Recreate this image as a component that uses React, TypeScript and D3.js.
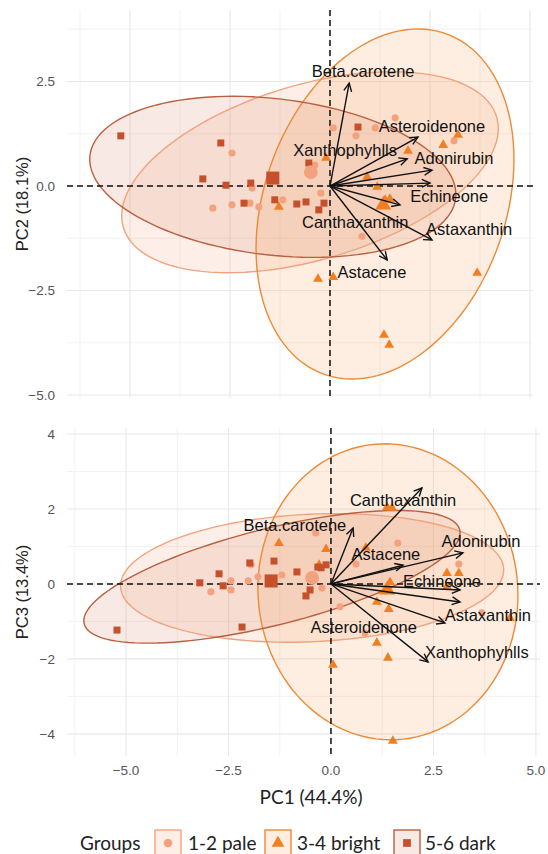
import React from "react";
import * as d3 from "d3";

type P = [number, number];

const groupNames = ["1-2 pale", "3-4 bright", "5-6 dark"];
const pointColors = ["#F4A27E", "#F07F22", "#C4512C"];
const ellipseColors = ["#EFA47E", "#EC8A36", "#B8603F"];
const fillColors = ["#F4A582", "#F7A25A", "#D9866A"];

const variables = ["Beta.carotene", "Asteroidenone", "Xanthophyhlls", "Adonirubin", "Echineone", "Canthaxanthin", "Astaxanthin", "Astacene"];

// ---------- PC1 vs PC2 ----------
const pc12Pale: P[] = [
  [-2.45, 0.79], [-1.95, -0.05], [-2.93, -0.53], [-2.45, -0.45], [-2.0, -0.41], [-1.78, -0.5],
  [-1.18, -0.33], [-0.23, -0.17], [-0.38, 0.5], [0.08, 1.39], [0.65, 1.2], [0.8, -1.2],
  [1.63, 1.63], [1.13, 1.39], [3.1, 1.08],
];
const pc12Bright: P[] = [
  [-1.28, -0.5], [-0.1, 0.67], [2.83, 0.98], [3.2, 1.22], [1.95, 0.84], [0.93, 0.22],
  [1.18, -0.02], [1.38, -0.33], [1.5, -0.31], [-0.3, -2.22], [0.08, -2.18], [3.68, -2.08],
  [1.35, -3.56], [1.48, -3.8],
];
const pc12Dark: P[] = [
  [-5.23, 1.2], [-2.73, 1.03], [-3.18, 0.17], [-2.6, 0.02], [-1.98, 0.07], [-2.15, -0.41],
  [-1.38, -0.33], [-0.83, -0.43], [-0.6, -0.38], [-0.15, -0.41], [-0.28, -0.57], [-0.53, 0.55],
  [0.7, 1.41],
];
const pc12Means: P[] = [[-0.48, 0.33], [1.33, -0.45], [-1.43, 0.19]];
const pc12Loadings: P[] = [
  [0.48, 2.46], [2.2, 1.17], [1.93, 0.65], [2.55, 0.38], [2.5, 0.07], [1.75, -0.45], [2.55, -1.29], [1.43, -1.77],
];
const pc12Labels: P[] = [
  [0.83, 2.75], [2.55, 1.44], [0.38, 0.86], [3.1, 0.67], [2.98, -0.24], [0.63, -0.86], [3.48, -1.03], [1.05, -2.06],
];
// [cx, cy, semi-major, semi-minor, angle deg]
const pc12Ellipses: number[][] = [
  [-0.5, 0.33, 4.85, 2.1, 15.5],
  [1.375, -0.43, 4.35, 3.0, 68],
  [-1.43, 0.22, 4.6, 1.87, -6.3],
];

// ---------- PC1 vs PC3 ----------
const pc13Pale: P[] = [
  [-1.95, 0.51], [-1.2, 0.24], [-1.78, 0.19], [-2.44, 0.08], [-2.02, 0.08], [-2.93, -0.21],
  [-2.44, -0.16], [-0.37, 1.36], [-0.22, -0.11], [0.22, -0.61], [0.83, -1.31], [1.63, 1.09],
  [0.61, 0.53], [3.12, 0.53], [3.68, -0.77],
];
const pc13Bright: P[] = [
  [-1.27, 1.09], [-0.12, 0.93], [-0.29, 0.51], [1.37, 2.05], [1.49, 2.03], [0.85, 0.96],
  [2.83, 0.29], [3.12, 0.29], [2.83, -0.08], [1.44, 0.05], [1.12, -0.48], [1.41, -0.67],
  [1.12, -1.57], [1.39, -1.97], [0.05, -2.16], [1.51, -4.19], [4.37, -0.91],
];
const pc13Dark: P[] = [
  [-1.98, 0.56], [-1.39, 0.61], [-0.83, 0.32], [-2.73, 0.27], [-3.2, 0.03], [-2.63, -0.05],
  [-0.24, 0.43], [-0.12, 0.51], [-0.32, 0.45], [-0.51, -0.16], [-0.61, -0.32], [-2.17, -1.15],
  [-5.22, -1.23],
];
const pc13Means: P[] = [[-0.46, 0.16], [1.37, -0.16], [-1.46, 0.08]];
const pc13Loadings: P[] = [
  [0.54, 1.49], [3.15, -0.48], [2.37, -2.08], [3.22, 0.83], [3.15, -0.16], [2.22, 2.56], [2.78, -1.04], [1.76, 0.5],
];
const pc13Labels: P[] = [
  [-0.88, 1.57], [0.8, -1.15], [3.56, -1.81], [3.66, 1.15], [2.71, 0.08], [1.76, 2.24], [3.83, -0.83], [1.34, 0.8],
];
const pc13Ellipses: number[][] = [
  [-0.46, 0.16, 4.68, 1.7, 3],
  [1.39, -0.21, 3.95, 3.17, 93],
  [-1.44, 0.19, 4.75, 1.28, 15.5],
];

const xMajor = [-5, -2.5, 0, 2.5, 5];
const xMinor = [-6.25, -3.75, -1.25, 1.25, 3.75];
const y2Major = [-5, -2.5, 0, 2.5];
const y2Minor = [-3.75, -1.25, 1.25, 3.75];
const y3Major = [-4, -2, 0, 2, 4];
const y3Minor = [-3, -1, 1, 3];

const FONT = "'Liberation Sans', Arial, sans-serif";
const FONT2 = "Lato, 'Open Sans', sans-serif";

const shapeTypes = [d3.symbolCircle, d3.symbolTriangle, d3.symbolSquare];
const shapeSizes = [40, 42, 49];
const meanSizes = [150, 110, 170];

function Panel(props: {
  x: d3.ScaleLinear<number, number>;
  y: d3.ScaleLinear<number, number>;
  yMajor: number[];
  yMinor: number[];
  yFmt: (v: number) => string;
  groups: P[][];
  means: P[];
  loadings: P[];
  labels: P[];
  ellipses: number[][];
  yTitle: string;
  showX: boolean;
  id: string;
}) {
  const { x, y } = props;
  const [x0, x1] = x.range();
  const [y0, y1] = y.range();
  const top = Math.min(y0, y1), bottom = Math.max(y0, y1);
  const line = d3.line<P>().x((d) => x(d[0])).y((d) => y(d[1])).curve(d3.curveLinearClosed);
  const ellPath = (e: number[]) => {
    const [cx, cy, a, b, ang] = e;
    const r = (ang * Math.PI) / 180;
    const pts: P[] = d3.range(0, 120).map((i) => {
      const t = (i / 120) * 2 * Math.PI;
      const u = a * Math.cos(t), v = b * Math.sin(t);
      return [cx + u * Math.cos(r) - v * Math.sin(r), cy + u * Math.sin(r) + v * Math.cos(r)];
    });
    return line(pts) as string;
  };
  const ox = x(0), oy = y(0);
  return (
    <g>
      <defs>
        <clipPath id={props.id}>
          <rect x={x0} y={top} width={x1 - x0} height={bottom - top} />
        </clipPath>
      </defs>
      {props.yMinor.map((v) => (
        <line key={"ym" + v} x1={x0} x2={x1} y1={y(v)} y2={y(v)} stroke="#EFEFEF" strokeWidth={0.8} />
      ))}
      {xMinor.map((v) => (
        <line key={"xm" + v} x1={x(v)} x2={x(v)} y1={top} y2={bottom} stroke="#EFEFEF" strokeWidth={0.8} />
      ))}
      {props.yMajor.map((v) => (
        <line key={"yM" + v} x1={x0} x2={x1} y1={y(v)} y2={y(v)} stroke="#E8E8E8" strokeWidth={1.1} />
      ))}
      {xMajor.map((v) => (
        <line key={"xM" + v} x1={x(v)} x2={x(v)} y1={top} y2={bottom} stroke="#E8E8E8" strokeWidth={1.1} />
      ))}
      <g clipPath={`url(#${props.id})`}>
        {props.ellipses.map((e, i) => (
          <path key={"ef" + i} d={ellPath(e)} fill={fillColors[i]} fillOpacity={0.18} stroke="none" />
        ))}
        {props.ellipses.map((e, i) => (
          <path key={"es" + i} d={ellPath(e)} fill="none" stroke={ellipseColors[i]} strokeWidth={1.4} />
        ))}
      </g>
      <line x1={x0} x2={x1} y1={oy} y2={oy} stroke="#111" strokeWidth={1.5} strokeDasharray="6,4" />
      <line x1={ox} x2={ox} y1={top} y2={bottom} stroke="#111" strokeWidth={1.5} strokeDasharray="6,4" />
      {props.groups.map((pts, gi) =>
        pts.map((p, j) => (
          <path
            key={`p${gi}-${j}`}
            d={d3.symbol().type(shapeTypes[gi]).size(shapeSizes[gi])() as string}
            transform={`translate(${x(p[0])},${y(p[1])})`}
            fill={pointColors[gi]}
          />
        ))
      )}
      {props.means.map((p, gi) => (
        <path
          key={`m${gi}`}
          d={d3.symbol().type(shapeTypes[gi]).size(meanSizes[gi])() as string}
          transform={`translate(${x(p[0])},${y(p[1])})`}
          fill={pointColors[gi]}
        />
      ))}
      {props.loadings.map((p, i) => {
        const tx = x(p[0]), ty = y(p[1]);
        const ang = Math.atan2(ty - oy, tx - ox);
        const L = 9, w = Math.PI / 7;
        const h1: P = [tx - L * Math.cos(ang - w), ty - L * Math.sin(ang - w)];
        const h2: P = [tx - L * Math.cos(ang + w), ty - L * Math.sin(ang + w)];
        return (
          <g key={"a" + i}>
            <line x1={ox} y1={oy} x2={tx} y2={ty} stroke="#111" strokeWidth={1.4} />
            <path d={`M${h1[0]},${h1[1]}L${tx},${ty}L${h2[0]},${h2[1]}`} fill="none" stroke="#111" strokeWidth={1.4} />
          </g>
        );
      })}
      {props.labels.map((p, i) => (
        <text
          key={"l" + i}
          x={x(p[0])}
          y={y(p[1])}
          dy="0.36em"
          textAnchor="middle"
          fontFamily={FONT}
          fontSize={16.5}
          fill="#111"
        >
          {variables[i]}
        </text>
      ))}
      {props.yMajor.map((v) => (
        <text key={"yt" + v} x={55} y={y(v)} dy="0.36em" textAnchor="end" fontFamily={FONT} fontSize={13.5} fill="#555">
          {props.yFmt(v)}
        </text>
      ))}
      {props.showX &&
        xMajor.map((v) => (
          <text key={"xt" + v} x={x(v)} y={bottom + 14} dy="0.36em" textAnchor="middle" fontFamily={FONT} fontSize={13.5} fill="#555">
            {d3.format(".1f")(v)}
          </text>
        ))}
      <text
        transform={`translate(22,${(top + bottom) / 2}) rotate(-90)`}
        textAnchor="middle"
        dy="0.36em"
        fontFamily={FONT}
        fontSize={16.5}
        fill="#222"
      >
        {props.yTitle}
      </text>
    </g>
  );
}

export default function App() {
  const xTop = d3.scaleLinear().domain([-6.575, 5.075]).range([67, 533]);
  const yTop = d3.scaleLinear().domain([-5.07, 4.21]).range([398, 10]);
  const xBot = d3.scaleLinear().domain([-6.44, 5.1]).range([67, 540]);
  const yBot = d3.scaleLinear().domain([-4.59, 4.16]).range([756, 428]);

  const legendX = [155, 265, 394];
  const legendTextX = [188, 297, 425];

  return (
    <div style={{ position: "absolute", left: 0, top: 0 }}>
      <svg width={548} height={854} style={{ display: "block", background: "#fff" }}>
        <Panel
          id="clipTop"
          x={xTop}
          y={yTop}
          yMajor={y2Major}
          yMinor={y2Minor}
          yFmt={d3.format(".1f")}
          groups={[pc12Pale, pc12Bright, pc12Dark]}
          means={pc12Means}
          loadings={pc12Loadings}
          labels={pc12Labels}
          ellipses={pc12Ellipses}
          yTitle="PC2 (18.1%)"
          showX={false}
        />
        <Panel
          id="clipBot"
          x={xBot}
          y={yBot}
          yMajor={y3Major}
          yMinor={y3Minor}
          yFmt={d3.format("d")}
          groups={[pc13Pale, pc13Bright, pc13Dark]}
          means={pc13Means}
          loadings={pc13Loadings}
          labels={pc13Labels}
          ellipses={pc13Ellipses}
          yTitle="PC3 (13.4%)"
          showX={true}
        />
        <text x={311} y={804} textAnchor="middle" fontFamily={FONT2} fontSize={19} fill="#222">
          PC1 (44.4%)
        </text>
        <text x={80} y={850} fontFamily={FONT2} fontSize={19} fill="#222">
          Groups
        </text>
        {groupNames.map((g, i) => (
          <g key={"lg" + i}>
            <rect x={legendX[i]} y={830} width={26} height={26} fill={fillColors[i]} fillOpacity={0.18} stroke={ellipseColors[i]} strokeWidth={1.4} />
            <path
              d={d3.symbol().type(shapeTypes[i]).size(i === 1 ? 70 : 60)() as string}
              transform={`translate(${legendX[i] + 13},${843})`}
              fill={pointColors[i]}
            />
            <text x={legendTextX[i]} y={850} fontFamily={FONT2} fontSize={19} fill="#222">
              {g}
            </text>
          </g>
        ))}
      </svg>
    </div>
  );
}
